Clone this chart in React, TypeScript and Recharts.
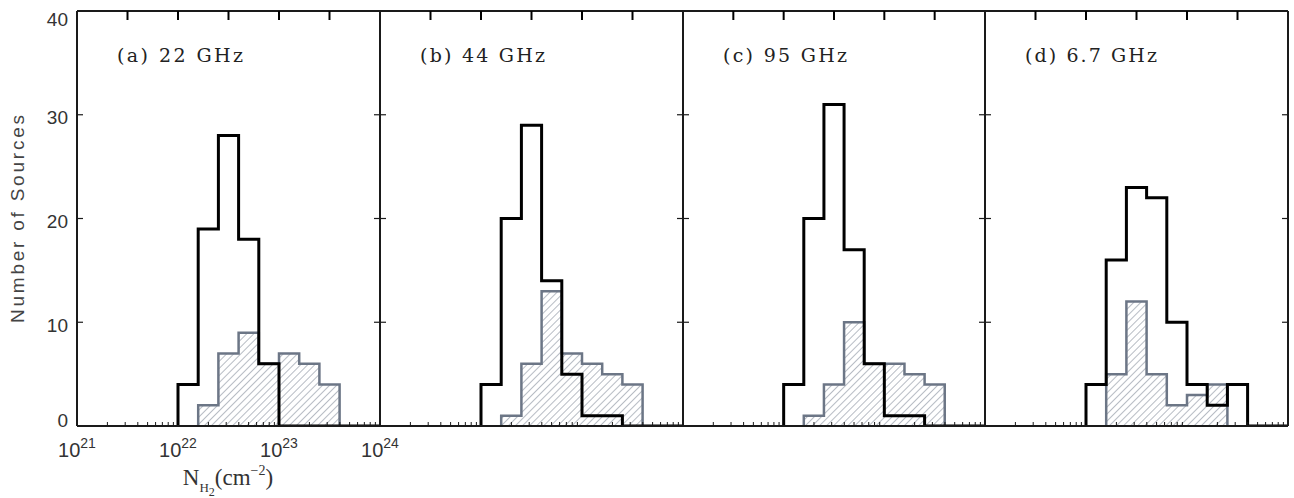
import { ComposedChart, XAxis, YAxis, Line, Area, Label } from 'recharts';

// histogram bins in log10(N_H2), 0.2 dex wide
const binStarts = [22.0, 22.2, 22.4, 22.6, 22.8, 23.0, 23.2, 23.4, 23.6, 23.8];
const binWidth = 0.2;

// all sources (black) and maser detections (hatched) per panel
const all22 = [4, 19, 28, 18, 6, 0, 0, 0, 0, 0];
const maser22 = [0, 2, 7, 9, 6, 7, 6, 4, 0, 0];
const all44 = [4, 20, 29, 14, 5, 1, 1, 0, 0, 0];
const maser44 = [0, 1, 6, 13, 7, 6, 5, 4, 0, 0];
const all95 = [4, 20, 31, 17, 6, 1, 1, 0, 0, 0];
const maser95 = [0, 1, 4, 10, 6, 6, 5, 4, 0, 0];
const all67 = [4, 16, 23, 22, 10, 4, 2, 4, 0, 0];
const maser67 = [0, 5, 12, 5, 2, 3, 4, 0, 0, 0];

const panelTitles = ['(a) 22 GHz', '(b) 44 GHz', '(c) 95 GHz', '(d) 6.7 GHz'];
const titleWidths = [126, 125, 124, 132];
const yTicks = [0, 10, 20, 30, 40];
const decades = [21, 22, 23, 24];
const topTicks = [21.5, 22, 22.5, 23, 23.5];

const panels = [
  { all: all22, maser: maser22 },
  { all: all44, maser: maser44 },
  { all: all95, maser: maser95 },
  { all: all67, maser: maser67 },
];

const edges = [77, 380, 683, 985, 1288];
const W = 1294;
const H = 498;
const TOP = 11;
const BOTTOM = 426;
const AX = 1; // axis band size

const minorTicks = decades
  .slice(0, -1)
  .flatMap((d) => [2, 3, 4, 5, 6, 7, 8, 9].map((k) => d + Math.log10(k)));
const xTicks = Array.from(new Set([...decades, ...minorTicks, ...topTicks])).sort((a, b) => a - b);

const FRAME = '#1a1a1a';
const GREY_LINE = '#6c7686';
const HATCH = '#6f7989';
const LABEL = '#333';

const near = (list: number[], v: number) => list.some((t) => Math.abs(t - v) < 1e-6);

function blackSteps(counts: number[]) {
  const pts = [{ x: binStarts[0], y: 0 }];
  counts.forEach((c, i) => pts.push({ x: binStarts[i], y: c }));
  pts.push({ x: binStarts[binStarts.length - 1] + binWidth, y: 0 });
  return pts;
}

function maserSteps(counts: number[]) {
  const first = counts.findIndex((c) => c > 0);
  let last = counts.length - 1;
  while (last > 0 && counts[last] === 0) last--;
  const pts = [{ x: binStarts[first], y: 0 }];
  for (let i = first; i <= last; i++) pts.push({ x: binStarts[i], y: counts[i] });
  pts.push({ x: binStarts[last] + binWidth, y: 0 });
  return pts;
}

// bottom axis: minor log ticks at the bottom, half-decade ticks hanging from the top frame
function XTick(props: any) {
  const { x, y, payload, showLabel } = props;
  const v = payload.value;
  const major = near(decades, v);
  const top = y - (BOTTOM - TOP);
  return (
    <g>
      {near(minorTicks, v) && <line x1={x} x2={x} y1={y} y2={y - 4} stroke={FRAME} strokeWidth={1} />}
      {near(topTicks, v) && <line x1={x} x2={x} y1={top} y2={top + 9} stroke="#000" strokeWidth={2} />}
      {showLabel && major && (
        <text x={x} y={457} textAnchor="middle" fontFamily="Liberation Sans" fontSize={20} fill={LABEL}>
          10
          <tspan fontSize={14} dy={-9}>{Math.round(v)}</tspan>
        </text>
      )}
    </g>
  );
}

function LeftTick(props: any) {
  const { x, y, payload, showLabel } = props;
  const v = payload.value;
  const ty = Math.min(Math.max(y + 3, 19), 420);
  return (
    <g>
      {v > 0 && v < 40 && <line x1={x} x2={x + 6} y1={y} y2={y} stroke={FRAME} strokeWidth={1.2} />}
      {showLabel && (
        <text x={x - 9} y={ty} dy="0.35em" textAnchor="end" fontFamily="Liberation Sans" fontSize={19} fill={LABEL}>
          {v}
        </text>
      )}
    </g>
  );
}

function RightTick(props: any) {
  const { x, y, payload } = props;
  const v = payload.value;
  if (v <= 0 || v >= 40) return <g />;
  return <line x1={x} x2={x - 6} y1={y} y2={y} stroke={FRAME} strokeWidth={1.2} />;
}

function Panel({ i }: { i: number }) {
  const left = edges[i];
  const right = edges[i + 1];
  const first = i === 0;
  const { all, maser } = panels[i];
  const hatchId = `hatch-${i}`;
  return (
    <div style={{ position: 'absolute', left: 0, top: 0 }}>
      <ComposedChart
        width={W}
        height={H}
        margin={{ top: TOP - AX, right: W - right - AX, bottom: H - BOTTOM - AX, left: left - AX }}
      >
        <defs>
          <pattern id={hatchId} patternUnits="userSpaceOnUse" width={5} height={5} patternTransform="rotate(45)">
            <line x1={0} y1={0} x2={0} y2={5} stroke={HATCH} strokeWidth={1} />
          </pattern>
        </defs>
        <XAxis
          xAxisId="b"
          dataKey="x"
          type="number"
          domain={[21, 24]}
          allowDataOverflow
          ticks={xTicks}
          interval={0}
          height={AX}
          tickSize={0}
          tickMargin={0}
          tickLine={false}
          axisLine={{ stroke: FRAME, strokeWidth: 2 }}
          tick={(p: any) => <XTick {...p} showLabel={first} />}
        >
          {first && (
            <Label
              content={() => (
                <text x={228} y={485} textAnchor="middle" fontFamily="Liberation Serif" fontSize={23} fill={LABEL}>
                  N
                  <tspan fontSize={13} dy={7}>H</tspan>
                  <tspan fontSize={12} dy={4}>2</tspan>
                  <tspan fontSize={23} dy={-11}>(cm</tspan>
                  <tspan fontSize={14} dy={-10}>−2</tspan>
                  <tspan fontSize={23} dy={10}>)</tspan>
                </text>
              )}
            />
          )}
        </XAxis>
        <XAxis
          xAxisId="t"
          orientation="top"
          type="number"
          domain={[21, 24]}
          allowDataOverflow
          height={AX}
          tick={false}
          tickLine={false}
          axisLine={{ stroke: FRAME, strokeWidth: 2 }}
        >
          <Label
            content={() => (
              <text
                x={left + 40}
                y={62}
                fontFamily="DejaVu Serif"
                fontSize={19}
                fill="#222"
                textLength={titleWidths[i]}
                lengthAdjust="spacing"
              >
                {panelTitles[i]}
              </text>
            )}
          />
        </XAxis>
        <YAxis
          yAxisId="l"
          type="number"
          domain={[0, 40]}
          allowDataOverflow
          ticks={yTicks}
          interval={0}
          width={AX}
          tickSize={0}
          tickMargin={0}
          tickLine={false}
          axisLine={{ stroke: FRAME, strokeWidth: 2 }}
          tick={(p: any) => <LeftTick {...p} showLabel={first} />}
        >
          {first && (
            <Label
              content={() => (
                <text
                  x={24}
                  y={219}
                  transform="rotate(-90, 24, 219)"
                  textAnchor="middle"
                  fontFamily="Liberation Sans"
                  fontSize={19}
                  fill="#444"
                  textLength={208}
                  lengthAdjust="spacing"
                >
                  Number of Sources
                </text>
              )}
            />
          )}
        </YAxis>
        <YAxis
          yAxisId="r"
          orientation="right"
          type="number"
          domain={[0, 40]}
          allowDataOverflow
          ticks={yTicks}
          interval={0}
          width={AX}
          tickSize={0}
          tickMargin={0}
          tickLine={false}
          axisLine={{ stroke: FRAME, strokeWidth: 2 }}
          tick={(p: any) => <RightTick {...p} />}
        />
        <Area
          xAxisId="b"
          yAxisId="l"
          data={maserSteps(maser)}
          dataKey="y"
          type="stepAfter"
          stroke={GREY_LINE}
          strokeWidth={2.5}
          fill={`url(#${hatchId})`}
          fillOpacity={1}
          baseValue={0}
          dot={false}
          activeDot={false}
          isAnimationActive={false}
        />
        <Line
          xAxisId="b"
          yAxisId="l"
          data={blackSteps(all)}
          dataKey="y"
          type="stepAfter"
          stroke="#000"
          strokeWidth={3}
          dot={false}
          activeDot={false}
          isAnimationActive={false}
        />
      </ComposedChart>
    </div>
  );
}

export default function App() {
  return (
    <div style={{ position: 'absolute', left: 0, top: 0, width: W, height: H, background: '#fff' }}>
      {panels.map((_, i) => (
        <Panel key={i} i={i} />
      ))}
    </div>
  );
}
